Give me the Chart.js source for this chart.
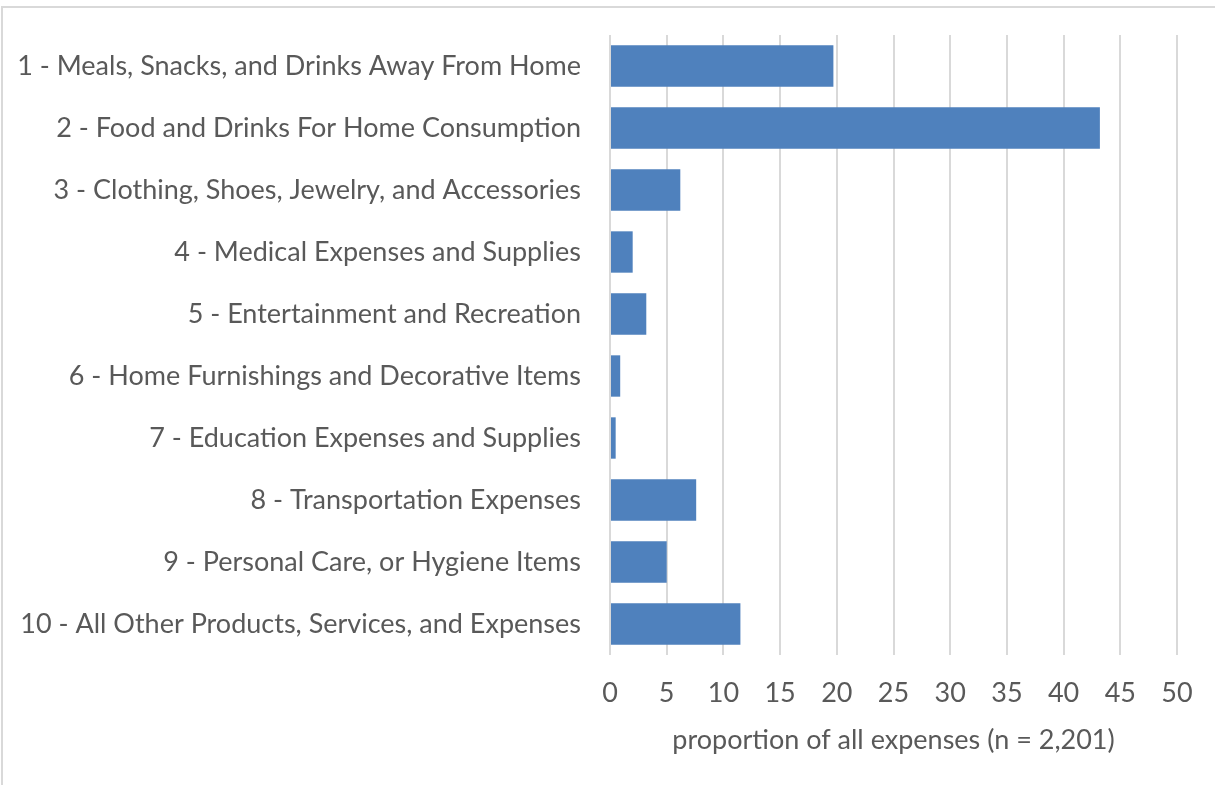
<!DOCTYPE html>
<html>
<head>
<meta charset="utf-8">
<script src="https://cdn.jsdelivr.net/npm/chart.js@4/dist/chart.umd.min.js"></script>
<style>
  html, body { margin: 0; padding: 0; background: #ffffff; }
  #wrap { width: 1215px; height: 785px; position: relative; }
</style>
</head>
<body>
<div id="wrap"><canvas id="chart" width="1215" height="785"></canvas></div>
<script>
// Expense categories (top to bottom)
const categories = [
  '1 - Meals, Snacks, and Drinks Away From Home',
  '2 - Food and Drinks For Home Consumption',
  '3 - Clothing, Shoes, Jewelry, and Accessories',
  '4 - Medical Expenses and Supplies',
  '5 - Entertainment and Recreation',
  '6 - Home Furnishings and Decorative Items',
  '7 - Education Expenses and Supplies',
  '8 - Transportation Expenses',
  '9 - Personal Care, or Hygiene Items',
  '10 - All Other Products, Services, and Expenses'
];

// Share of all expenses, percent
const proportions = [19.7, 43.2, 6.2, 2.0, 3.2, 0.9, 0.5, 7.6, 5.0, 11.5];

// Axis settings
const axisMin = 0;
const axisMax = 50;
const axisStep = 5;
const axisTitle = 'proportion of all expenses (n = 2,201)';

const FONT = 'Lato, "Open Sans", sans-serif';
const FONT_SIZE = 27;
const TEXT = '#595959';
const GRID = '#d9d9d9';

// Thin grey frame around the whole chart area
const framePlugin = {
  id: 'frame',
  beforeDraw(chart) {
    const ctx = chart.ctx;
    ctx.save();
    ctx.fillStyle = '#ffffff';
    ctx.fillRect(0, 0, chart.width, chart.height);
    ctx.strokeStyle = GRID;
    ctx.lineWidth = 2;
    ctx.strokeRect(2, 7, chart.width + 20, chart.height + 20);
    ctx.restore();
  }
};

new Chart(document.getElementById('chart'), {
  type: 'bar',
  data: {
    labels: categories,
    datasets: [{
      data: proportions,
      backgroundColor: '#4f81bd',
      borderWidth: 0,
      barPercentage: 0.667,
      categoryPercentage: 1.0
    }]
  },
  options: {
    indexAxis: 'y',
    responsive: false,
    animation: false,
    layout: { padding: { top: 35, right: 38, left: 0, bottom: 0 } },
    plugins: {
      legend: { display: false },
      tooltip: { enabled: false }
    },
    scales: {
      x: {
        min: axisMin,
        max: axisMax,
        ticks: {
          stepSize: axisStep,
          color: TEXT,
          font: { family: FONT, size: FONT_SIZE },
          padding: 22,
          maxRotation: 0
        },
        grid: { color: GRID, lineWidth: 2, drawTicks: false },
        border: { display: false },
        title: {
          display: true,
          text: axisTitle,
          color: TEXT,
          font: { family: FONT, size: FONT_SIZE },
          padding: { top: 0, bottom: 29 }
        },
        afterFit(scale) {
          scale.height = 130;
          scale.paddingLeft = 0;
          scale.paddingRight = 0;
        }
      },
      y: {
        ticks: {
          color: TEXT,
          font: { family: FONT, size: FONT_SIZE },
          padding: 29,
          autoSkip: false
        },
        grid: { display: false, drawTicks: false },
        border: { display: false },
        afterFit(scale) {
          scale.width = 610;
          scale.paddingTop = 0;
          scale.paddingBottom = 0;
        }
      }
    }
  },
  plugins: [framePlugin]
});
</script>
</body>
</html>
